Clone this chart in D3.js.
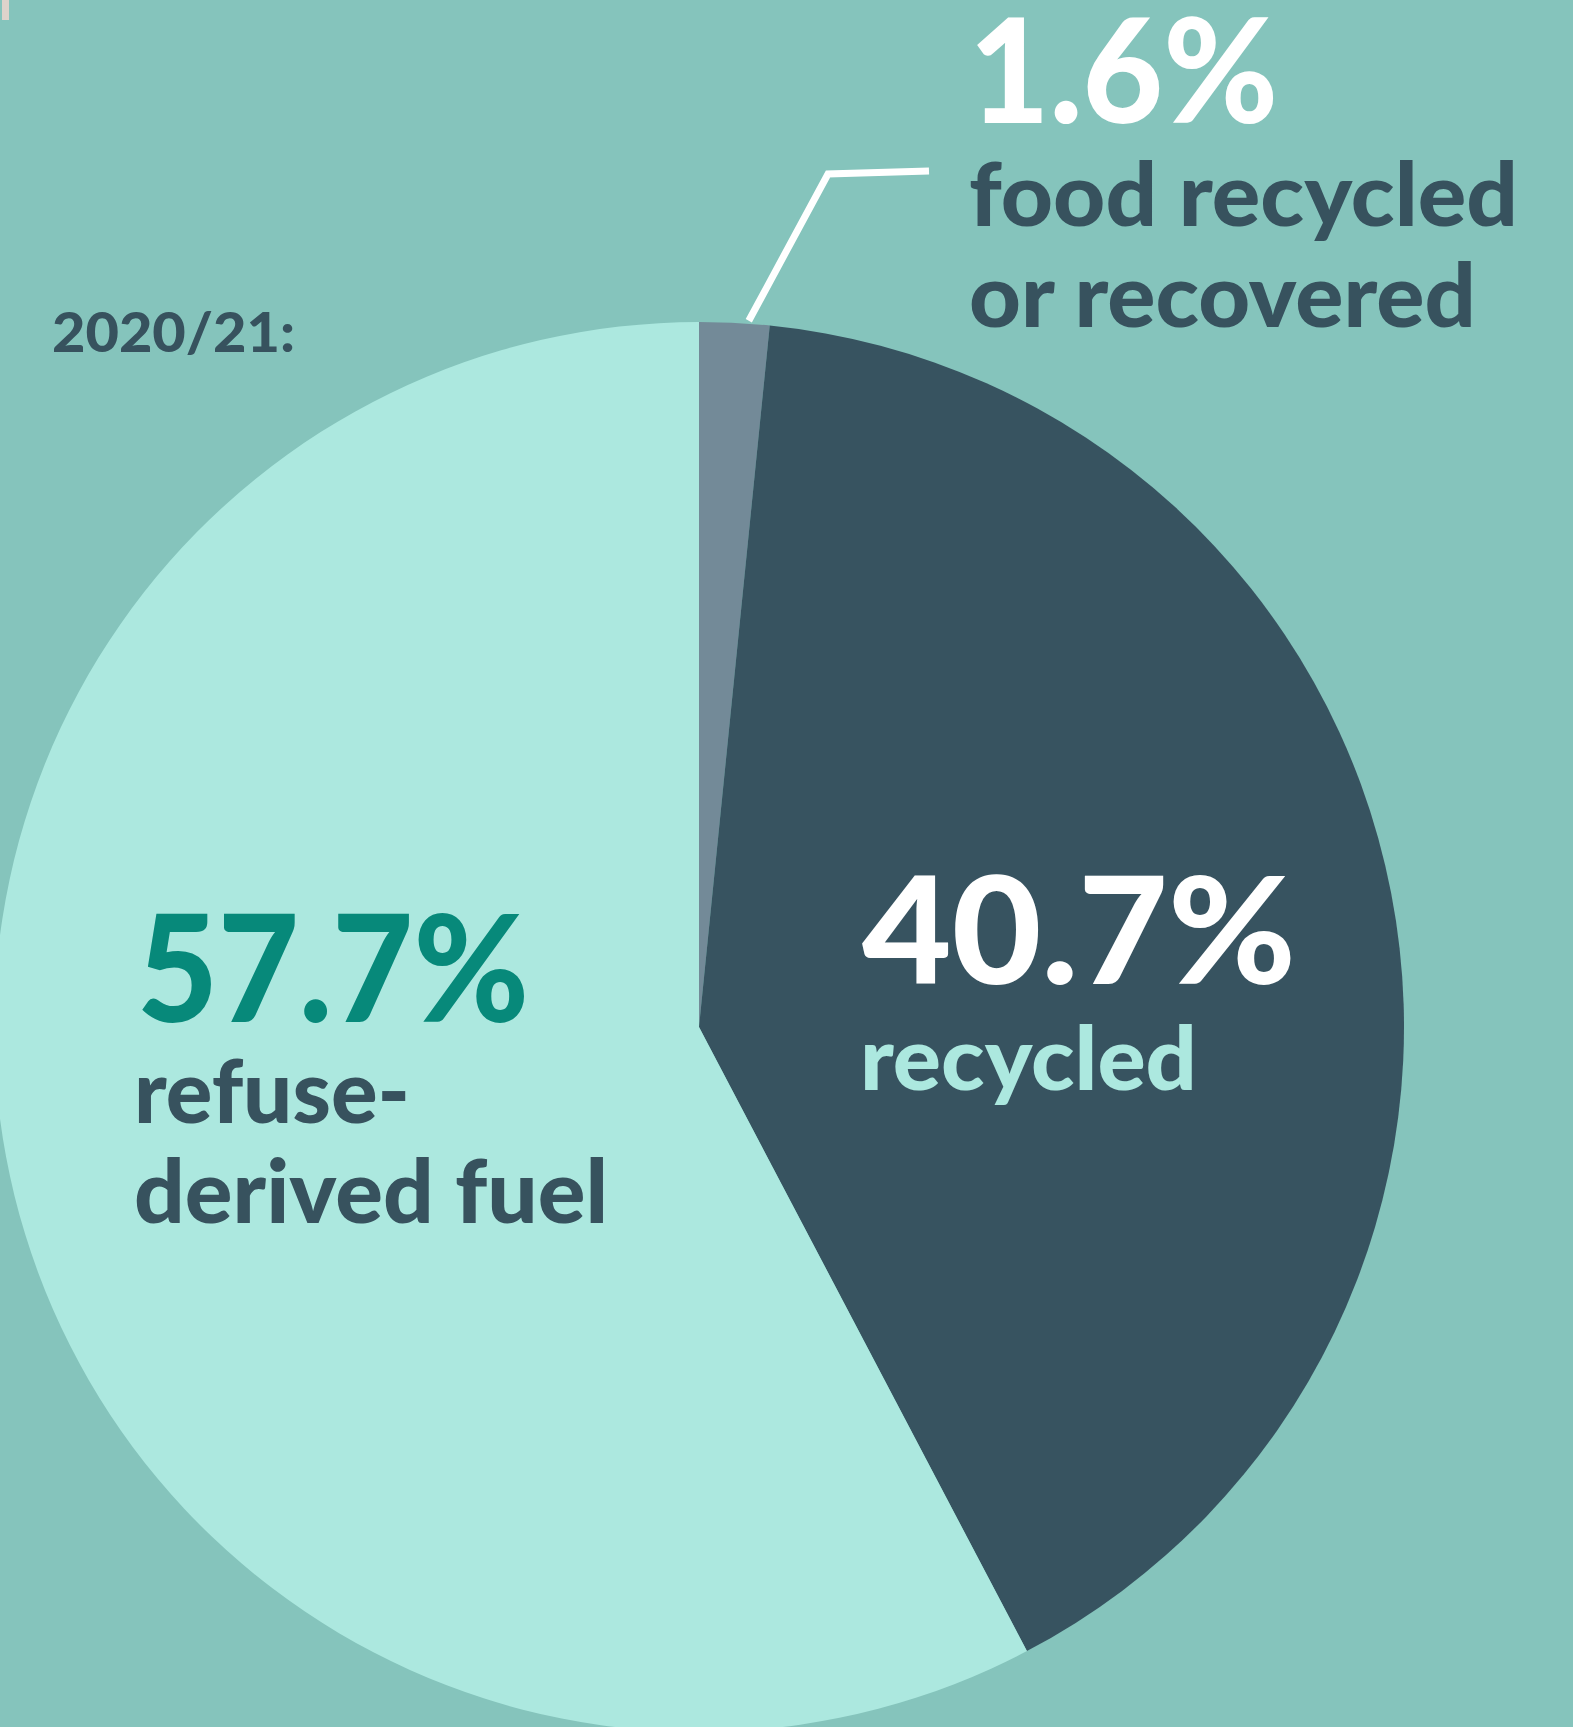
<!DOCTYPE html>
<html>
<head>
<meta charset="utf-8">
<script src="https://cdn.jsdelivr.net/npm/d3@7"></script>
<style>
  html, body { margin: 0; padding: 0; background: #85C4BC; }
  svg { display: block; }
</style>
</head>
<body>
<svg id="chart" width="1573" height="1727"></svg>
<script>
// ---- data ----
const categories = ["food recycled or recovered", "recycled", "refuse-derived fuel"];
const values = [1.6, 40.7, 57.7];
const valueLabels = ["1.6%", "40.7%", "57.7%"];
const yearLabel = "2020/21:";

// ---- styles ----
const W = 1573, H = 1727;
const cx = 699, cy = 1027, R = 705;
const sliceColors = ["#738A98", "#375360", "#ACE8DF"];
const bg = "#85C4BC";
const darkText = "#37525E";
const FONT = "Lato, 'Open Sans', sans-serif";

const svg = d3.select("#chart");
svg.append("rect").attr("width", W).attr("height", H).attr("fill", bg);
// small artifact top-left
svg.append("rect").attr("x", 2).attr("y", 0).attr("width", 7).attr("height", 20).attr("fill", "#DDD3CB");

const pie = d3.pie().sort(null).value(d => d).startAngle(0).endAngle(2 * Math.PI);
const arcs = pie(values);
const arc = d3.arc().innerRadius(0).outerRadius(R);

const g = svg.append("g").attr("transform", `translate(${cx},${cy})`);
g.selectAll("path").data(arcs).enter().append("path")
  .attr("d", arc)
  .attr("fill", (d, i) => sliceColors[i]);

// leader line for the small slice
const a0 = arcs[0].startAngle + (arcs[0].endAngle - arcs[0].startAngle) * 0.7;
const p0 = [cx + (R + 3) * Math.sin(a0), cy - (R + 3) * Math.cos(a0)];
const labelX = 969;
const elbow = [828, 174];
const pEnd = [labelX - 40, 171];
svg.append("path")
  .attr("d", d3.line()([p0, elbow, pEnd]))
  .attr("fill", "none").attr("stroke", "#ffffff").attr("stroke-width", 7)
  .attr("stroke-linejoin", "miter");

function txt(s, x, y, size, color, width, weight) {
  const t = svg.append("text")
    .attr("x", x).attr("y", y)
    .attr("font-family", FONT)
    .attr("font-weight", weight || 700)
    .attr("font-size", size)
    .attr("fill", color)
    .text(s);
  if (width) t.attr("textLength", width).attr("lengthAdjust", "spacingAndGlyphs");
  return t;
}

// year
txt(yearLabel, 52, 352, 56, darkText, 243, 900);

// food recycled
txt(valueLabels[0], 969, 123, 144, "#ffffff", 309, 900);
txt("food recycled", 969, 226, 88, darkText, 549, 900);
txt("or recovered", 969, 327, 88, darkText, 507, 900);

// recycled
txt(valueLabels[1], 862, 984, 148, "#ffffff", 434, 900);
txt("recycled", 860, 1090, 88, "#ACE8DF", 337, 900);

// refuse-derived fuel
txt(valueLabels[2], 137, 1022, 148, "#07897A", 392, 900);
txt("refuse-", 134, 1123, 88, darkText, 276, 900);
txt("derived fuel", 134, 1223, 88, darkText, 474, 900);
</script>
</body>
</html>
